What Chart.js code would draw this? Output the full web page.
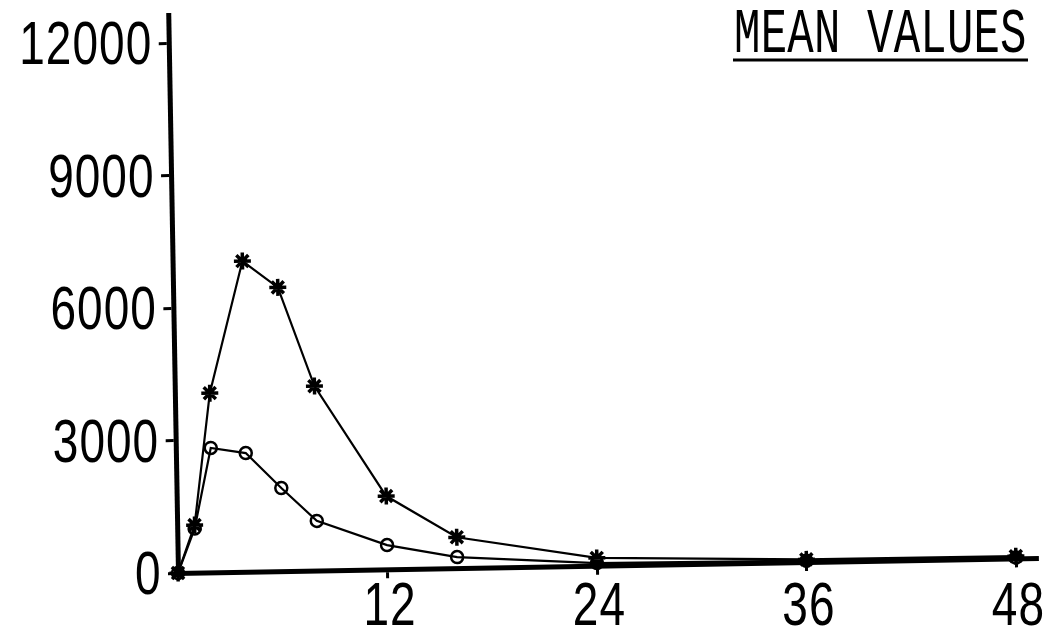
<!DOCTYPE html>
<html>
<head>
<meta charset="utf-8">
<script src="https://cdn.jsdelivr.net/npm/chart.js@4.4.1/dist/chart.umd.min.js"></script>
<style>
  html, body { margin: 0; padding: 0; background: #fff; overflow: hidden; }
  #wrap { width: 1049px; height: 631px; position: relative; }
</style>
</head>
<body>
<div id="wrap"><canvas id="chart"></canvas></div>
<script>
// Sampling times (hours) and the two mean-value series
const hours = [0, 1, 2, 4, 6, 8, 12, 16, 24, 36, 48];
const starValues = [0, 1080, 4060, 7040, 6430, 4180, 1660, 700, 175, 60, 50];
const circleValues = [0, 1000, 2820, 2690, 1885, 1125, 550, 250, 60, 30, 20];

// Axis ticks and their labels
const yTickValues = [0, 3000, 6000, 9000, 12000];
const yTickLabels = ['0', '3000', '6000', '9000', '12000'];
const xTickValues = [12, 24, 36, 48];
const xTickLabels = ['12', '24', '36', '48'];

const titleText = 'MEAN VALUES';

// Plotter-style look: the whole plot sits slightly tilted on the page
const TILT = -1.0 * Math.PI / 180;
const DIGIT_FONT = '"Liberation Sans", Arimo, sans-serif';
const TITLE_FONT = '"Liberation Mono", "DejaVu Sans Mono", monospace';
const CELL = 26.6;          // px per character cell (fixed pitch)
const LETTER_HEIGHT = 42;   // px height of digits / capitals

function plotOrigin(chart) {
  return { ox: chart.chartArea.left, oy: chart.chartArea.bottom };
}

// Position of a plot-space pixel once the tilt is applied
function tilted(chart, px, py) {
  const { ox, oy } = plotOrigin(chart);
  const dx = px - ox, dy = py - oy;
  const c = Math.cos(TILT), s = Math.sin(TILT);
  return { x: ox + dx * c - dy * s, y: oy + dx * s + dy * c };
}

// Font size and vertical stretch giving tall, narrow plotter lettering
function lettering(ctx, family, size, sample) {
  ctx.save();
  ctx.font = size + 'px ' + family;
  const asc = ctx.measureText(sample).actualBoundingBoxAscent;
  ctx.restore();
  return { family, size, sy: LETTER_HEIGHT / asc };
}

// Fixed-pitch text: every character centred in its own cell
function drawCells(ctx, text, x, baseline, align, style) {
  const total = text.length * CELL;
  let start = x;
  if (align === 'right') start = x - total;
  else if (align === 'center') start = x - total / 2;
  ctx.save();
  ctx.font = style.size + 'px ' + style.family;
  ctx.textAlign = 'center';
  ctx.textBaseline = 'alphabetic';
  for (let i = 0; i < text.length; i++) {
    ctx.save();
    ctx.translate(start + (i + 0.5) * CELL, baseline);
    ctx.scale(1, style.sy);
    ctx.fillText(text[i], 0, 0);
    ctx.restore();
  }
  ctx.restore();
}

const plotterPlugin = {
  id: 'plotter',
  beforeDraw(chart) {
    const { ctx } = chart;
    const { ox, oy } = plotOrigin(chart);
    ctx.save();
    ctx.translate(ox, oy);
    ctx.rotate(TILT);
    ctx.translate(-ox, -oy);
  },
  afterDatasetsDraw(chart) {
    chart.ctx.restore();
  },
  afterDraw(chart) {
    const { ctx, scales } = chart;
    const x = scales.x, y = scales.y;
    const digits = lettering(ctx, DIGIT_FONT, 46, '0');
    const caps = lettering(ctx, TITLE_FONT, 44, 'M');
    ctx.save();
    ctx.fillStyle = '#000';

    // y tick labels, right-aligned left of the axis
    yTickValues.forEach((v, i) => {
      const p = tilted(chart, chart.chartArea.left, y.getPixelForValue(v));
      drawCells(ctx, yTickLabels[i], p.x - 17, p.y + LETTER_HEIGHT / 2, 'right', digits);
    });

    // x tick labels, centred under their ticks
    xTickValues.forEach((v, i) => {
      const p = tilted(chart, x.getPixelForValue(v), chart.chartArea.bottom);
      drawCells(ctx, xTickLabels[i], p.x + 2, 625, 'center', digits);
    });

    // underlined title
    drawCells(ctx, titleText, 734, 52, 'left', caps);
    ctx.fillRect(733, 58.5, 295, 3);
    ctx.restore();
  }
};

const ctx = document.getElementById('chart').getContext('2d');
new Chart(ctx, {
  type: 'line',
  data: {
    datasets: [
      {
        label: 'star',
        data: hours.map((h, i) => ({ x: h, y: starValues[i] })),
        borderColor: '#000',
        borderWidth: 2.2,
        pointStyle: 'star',
        pointRadius: 8.5,
        pointBorderWidth: 3.5,
        pointBorderColor: '#000',
        pointBackgroundColor: '#000',
        tension: 0,
        clip: false,
        order: 0
      },
      {
        label: 'circle',
        data: hours.map((h, i) => ({ x: h, y: circleValues[i] })),
        borderColor: '#000',
        borderWidth: 2.2,
        pointStyle: 'circle',
        pointRadius: 6,
        pointBorderWidth: 2.5,
        pointBorderColor: '#000',
        pointBackgroundColor: 'rgba(0,0,0,0)',
        tension: 0,
        clip: false,
        order: 1
      }
    ]
  },
  options: {
    responsive: true,
    maintainAspectRatio: false,
    animation: false,
    events: [],
    layout: { padding: { top: 15, left: 0, right: 0, bottom: 0 } },
    plugins: {
      legend: { display: false },
      tooltip: { enabled: false },
      title: { display: false }
    },
    scales: {
      x: {
        type: 'linear',
        min: 0,
        max: 49.2,
        afterBuildTicks: s => { s.ticks = xTickValues.map(v => ({ value: v })); },
        afterFit: s => { s.height = 58; },
        ticks: { display: false },
        grid: { display: true, drawOnChartArea: false, drawTicks: true, tickLength: 9, color: '#000', lineWidth: 3 },
        border: { display: true, color: '#000', width: 5 }
      },
      y: {
        type: 'linear',
        min: 0,
        max: 12640,
        afterBuildTicks: s => { s.ticks = yTickValues.map(v => ({ value: v })); },
        afterFit: s => { s.width = 178; },
        ticks: { display: false },
        grid: { display: true, drawOnChartArea: false, drawTicks: true, tickLength: 10, color: '#000', lineWidth: 3 },
        border: { display: true, color: '#000', width: 5 }
      }
    }
  },
  plugins: [plotterPlugin]
});
</script>
</body>
</html>
